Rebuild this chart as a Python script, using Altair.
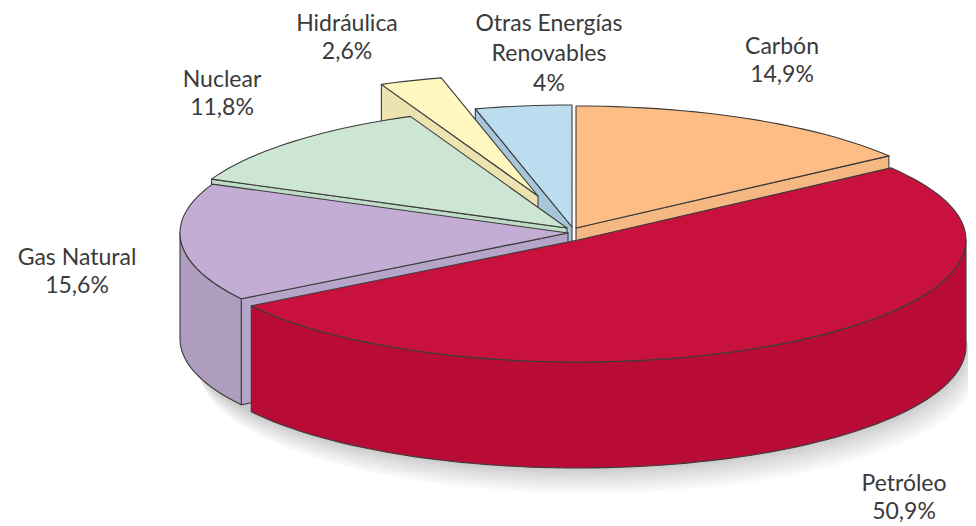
import math
import altair as alt
import pandas as pd

# Values (clockwise from 12 o'clock)
labels = ["Carbón", "Petróleo", "Gas Natural", "Nuclear", "Hidráulica", "Otras Energías Renovables"]
shares = [14.9, 50.9, 15.6, 11.8, 2.6, 4.0]

# Style and 3D-projection layout
top_colors = ["#FDBD85", "#C8123D", "#C3ADD4", "#CDE6D4", "#FFF8C0", "#BCDCEF"]
side_colors = ["#EEB27F", "#B80C36", "#AE9DBF", "#BAD6C4", "#EDE3B0", "#A8C6DA"]
cut_colors = ["#F6B882", "#B80C36", "#B6A5C8", "#BFDCC9", "#EDE3B0", "#A8C6DA"]
centers_x = [576, 578, 568, 567, 538, 572]
centers_y = [228, 240, 233, 228, 196, 227]
RX, RY, DEPTH = 388, 122, 106
paint_order = [5, 4, 0, 3, 2, 1]

text_x = [782, 782, 549, 549, 549, 347, 347, 222, 222, 77, 77, 904, 904]
text_y = [47, 75, 24, 54, 84, 24, 52, 80, 108, 258, 286, 484, 512]
text_s = ["Carbón", "14,9%", "Otras Energías", "Renovables", "4%", "Hidráulica", "2,6%",
          "Nuclear", "11,8%", "Gas Natural", "15,6%", "Petróleo", "50,9%"]

total = sum(shares)
starts = []
acc = 0.0
for s in shares:
    starts.append(acc)
    acc += s / total * 360


def pt(cx, cy, a, dy=0.0):
    r = math.radians(a)
    return cx + RX * math.sin(r), cy - RY * math.cos(r) + dy


def arc(cx, cy, a0, a1, dy=0.0):
    n = max(2, int(abs(a1 - a0) / 2) + 1)
    return [pt(cx, cy, a0 + (a1 - a0) * i / n, dy) for i in range(n + 1)]


rows = []
poly = 0


def add(points, fill):
    global poly
    for i, (x, y) in enumerate(points):
        rows.append({"poly": poly, "i": i, "x": x, "y": y, "fill": fill})
    poly += 1


for k in paint_order:
    a0 = starts[k]
    a1 = a0 + shares[k] / total * 360
    cx, cy = centers_x[k], centers_y[k]
    # only the cut faces turned towards the viewer are drawn
    visible = []
    if a0 >= 180:
        visible.append(a0)
    if a1 <= 180:
        visible.append(a1)
    for a in visible:
        p = pt(cx, cy, a)
        add([(cx, cy), p, (p[0], p[1] + DEPTH), (cx, cy + DEPTH)], cut_colors[k])
    lo, hi = max(a0, 90), min(a1, 270)
    if hi > lo:
        add(arc(cx, cy, lo, hi) + arc(cx, cy, hi, lo, DEPTH), side_colors[k])
    add([(cx, cy)] + arc(cx, cy, a0, a1), top_colors[k])

df = pd.DataFrame(rows)

# Soft shadow under the pie
shadow_rows = []
steps = 12
for j in range(steps):
    t = 1 - j / (steps - 1)
    g = int(200 + 55 * t ** 0.9)
    cx = 577 + 13 * t
    cy = 346 + 28 * t
    for i, (x, y) in enumerate(arc(cx, cy, 60, 300)):
        shadow_rows.append({"poly": j, "i": i, "x": x, "y": y, "fill": f"#{g:02x}{g:02x}{g:02x}"})
shadow = pd.DataFrame(shadow_rows)

X = alt.Scale(domain=[8, 968], range=[0, 960])
Y = alt.Scale(domain=[8, 526], range=[0, 518])


def poly_layer(data, **mark):
    return alt.Chart(data).mark_line(filled=True, interpolate="linear-closed", **mark).encode(
        x=alt.X("x:Q", scale=X, axis=None),
        y=alt.Y("y:Q", scale=Y, axis=None),
        detail="poly:N",
        order="i:Q",
        fill=alt.Fill("fill:N", scale=None),
    )


shadow_layer = poly_layer(shadow, strokeWidth=0, clip=True)
faces = poly_layer(df, stroke="#3c3c3c", strokeWidth=1.1, strokeJoin="round")
texts = alt.Chart(pd.DataFrame({"x": text_x, "y": text_y, "s": text_s})).mark_text(
    font="Lato", fontSize=23, color="#3a3a3a", align="center", baseline="middle"
).encode(
    x=alt.X("x:Q", scale=X, axis=None),
    y=alt.Y("y:Q", scale=Y, axis=None),
    text="s:N",
)

chart = (shadow_layer + faces + texts).properties(
    width=960, height=518, padding=0, autosize="none", background="white",
    view=alt.ViewConfig(stroke=None),
)
chart.save("out.html", embed_options={"renderer": "svg", "actions": False})
